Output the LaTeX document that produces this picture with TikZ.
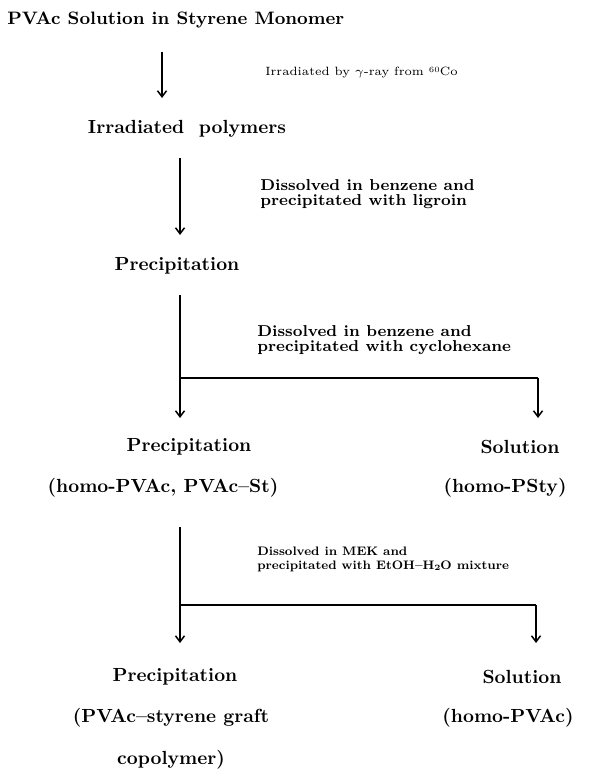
\documentclass[tikz,border=0pt]{standalone}
\usetikzlibrary{arrows.meta}
\tikzset{
  stage/.style={font=\fontsize{9.5}{11}\selectfont\bfseries,inner sep=0pt},
  cond/.style={font=\fontsize{7.9}{7.8}\selectfont\bfseries,align=left,anchor=west,inner sep=0pt},
  flow/.style={-{Straight Barb[length=3pt,width=4.5pt]},line width=.75pt},
  bar/.style={line width=1pt}
}
\newcommand\tinysup[1]{\raisebox{.6ex}{\fontsize{4}{5}\selectfont #1}}
\newcommand\tinysub[1]{\raisebox{-.3ex}{\fontsize{5.2}{6}\selectfont #1}}
\begin{document}
\begin{tikzpicture}[x=.5pt,y=-.5pt]
\useasboundingbox (0,0) rectangle (598,770);
\node[stage,anchor=west,font=\fontsize{9}{11}\selectfont\bfseries] (feed) at (7,20) {PVAc Solution in Styrene Monomer};
\node[font=\fontsize{6}{8}\selectfont,anchor=west,inner sep=0pt] (irrad) at (265,73) {Irradiated by $\gamma$-ray from \tinysup{60}Co};
\node[stage] (poly) at (187,129) {Irradiated\ \ polymers};
\node[cond] (ligroin) at (260,194) {Dissolved in benzene and\\precipitated with ligroin};
\node[stage] (prec1) at (177,266) {Precipitation};
\node[cond] (cyclo) at (257,340) {Dissolved in benzene and\\precipitated with cyclohexane};
\node[stage] (prec2) at (189,447) {Precipitation};
\node[stage] (sol1) at (520,447) {Solution};
\node[stage] (mix1) at (163,488) {(homo-PVAc, PVAc--St)};
\node[stage] (psty) at (505,488) {(homo-PSty)};
\node[cond,scale=.78,font=\fontsize{7.9}{9}\selectfont\bfseries] (mek) at (257,559) {Dissolved in MEK and\\precipitated with EtOH--H\tinysub{2}O mixture};
\node[stage] (prec3) at (175,677) {Precipitation};
\node[stage] (sol2) at (522,677) {Solution};
\node[stage,align=center,font=\fontsize{9.5}{21}\selectfont\bfseries] (graft) at (171,739) {(PVAc--styrene graft\\copolymer)};
\node[stage] (pvac) at (508,718) {(homo-PVAc)};
\coordinate (a1) at (162,52); \coordinate (b1) at (162,98);
\coordinate (a2) at (180,158); \coordinate (b2) at (180,235);
\coordinate (a3) at (180,295); \coordinate (j3) at (180,378); \coordinate (k3) at (538,378);
\coordinate (c3) at (180,418); \coordinate (d3) at (538,418);
\coordinate (a4) at (180,527); \coordinate (j4) at (180,605); \coordinate (k4) at (536,605);
\coordinate (c4) at (180,643); \coordinate (d4) at (536,643);
\draw[flow] (a1) -- (b1);
\draw[flow] (a2) -- (b2);
\draw[line width=.75pt] (a3) -- (j3);
\draw[bar] (j3) -- (k3);
\draw[flow] (j3) -- (c3);
\draw[flow] (k3) -- (d3);
\draw[line width=.75pt] (a4) -- (j4);
\draw[bar] (j4) -- (k4);
\draw[flow] (j4) -- (c4);
\draw[flow] (k4) -- (d4);
\end{tikzpicture}
\end{document}
